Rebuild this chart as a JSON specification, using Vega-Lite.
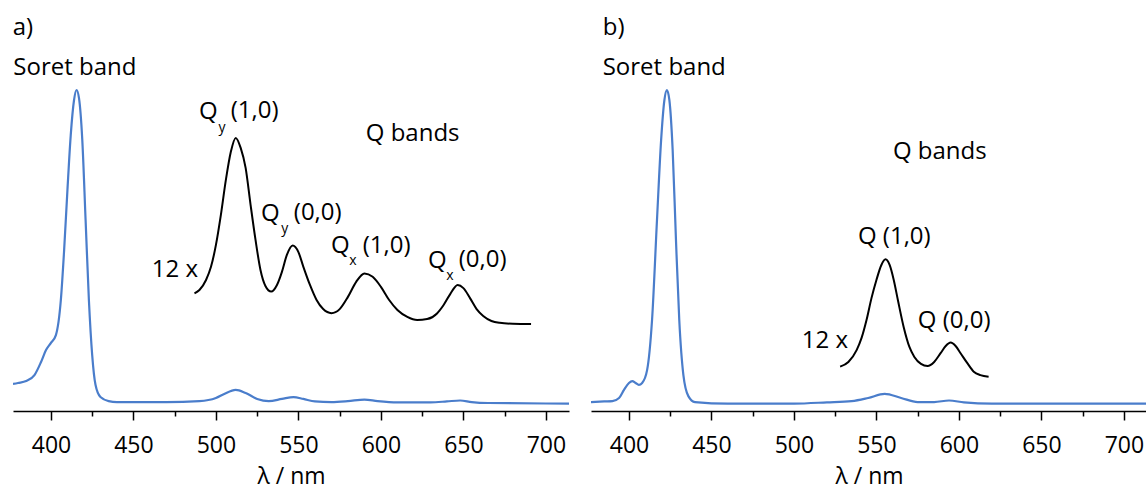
{
  "$schema": "https://vega.github.io/schema/vega-lite/v6.json",
  "padding": {"left": 12, "top": 0, "right": 0, "bottom": 0},
  "spacing": 22,
  "background": "white",
  "config": {"view": {"stroke": null}, "font": "Open Sans"},
  "datasets": {
    "blueA": [
      {"wl": 377, "A": 0.061}, {"wl": 380, "A": 0.064}, {"wl": 385, "A": 0.070}, {"wl": 390, "A": 0.089},
      {"wl": 394, "A": 0.131}, {"wl": 397, "A": 0.169}, {"wl": 400, "A": 0.192}, {"wl": 403, "A": 0.217},
      {"wl": 406, "A": 0.329}, {"wl": 408, "A": 0.489}, {"wl": 410, "A": 0.681}, {"wl": 412, "A": 0.856},
      {"wl": 414, "A": 0.968}, {"wl": 415.5, "A": 1.0}, {"wl": 417, "A": 0.974}, {"wl": 419, "A": 0.84},
      {"wl": 421, "A": 0.585}, {"wl": 423, "A": 0.329}, {"wl": 425, "A": 0.153}, {"wl": 427, "A": 0.058},
      {"wl": 430, "A": 0.019}, {"wl": 435, "A": 0.006}, {"wl": 440, "A": 0.003}, {"wl": 450, "A": 0.003},
      {"wl": 470, "A": 0.003}, {"wl": 490, "A": 0.006}, {"wl": 500, "A": 0.016}, {"wl": 505, "A": 0.029},
      {"wl": 512, "A": 0.042}, {"wl": 518, "A": 0.032}, {"wl": 525, "A": 0.013}, {"wl": 532, "A": 0.006},
      {"wl": 540, "A": 0.013}, {"wl": 547, "A": 0.019}, {"wl": 553, "A": 0.013}, {"wl": 560, "A": 0.005},
      {"wl": 570, "A": 0.003}, {"wl": 580, "A": 0.006}, {"wl": 590, "A": 0.011}, {"wl": 598, "A": 0.006},
      {"wl": 610, "A": 0.002}, {"wl": 630, "A": 0.002}, {"wl": 640, "A": 0.005}, {"wl": 648, "A": 0.008},
      {"wl": 655, "A": 0.003}, {"wl": 665, "A": 0.0}, {"wl": 714, "A": -0.002}
    ],
    "blackA": [
      {"wl": 487, "A": 0.35}, {"wl": 490, "A": 0.361}, {"wl": 494, "A": 0.393}, {"wl": 497, "A": 0.435},
      {"wl": 500, "A": 0.505}, {"wl": 503, "A": 0.601}, {"wl": 506, "A": 0.712}, {"wl": 509, "A": 0.802},
      {"wl": 512, "A": 0.847}, {"wl": 515, "A": 0.815}, {"wl": 518, "A": 0.751}, {"wl": 521, "A": 0.633},
      {"wl": 524, "A": 0.521}, {"wl": 527, "A": 0.425}, {"wl": 530, "A": 0.374}, {"wl": 533.5, "A": 0.356},
      {"wl": 537, "A": 0.377}, {"wl": 540, "A": 0.419}, {"wl": 543, "A": 0.473}, {"wl": 546.5, "A": 0.503},
      {"wl": 550, "A": 0.482}, {"wl": 553, "A": 0.435}, {"wl": 557, "A": 0.377}, {"wl": 561, "A": 0.329},
      {"wl": 565, "A": 0.3}, {"wl": 570, "A": 0.287}, {"wl": 575, "A": 0.3}, {"wl": 580, "A": 0.339},
      {"wl": 585, "A": 0.387}, {"wl": 590, "A": 0.414}, {"wl": 595, "A": 0.403}, {"wl": 600, "A": 0.371},
      {"wl": 605, "A": 0.329}, {"wl": 610, "A": 0.297}, {"wl": 616, "A": 0.275}, {"wl": 622, "A": 0.265},
      {"wl": 628, "A": 0.268}, {"wl": 634, "A": 0.286}, {"wl": 638, "A": 0.313}, {"wl": 642, "A": 0.348},
      {"wl": 646.5, "A": 0.377}, {"wl": 650, "A": 0.367}, {"wl": 654, "A": 0.335}, {"wl": 658, "A": 0.3},
      {"wl": 662, "A": 0.278}, {"wl": 667, "A": 0.262}, {"wl": 672, "A": 0.256}, {"wl": 680, "A": 0.253},
      {"wl": 691, "A": 0.252}
    ],
    "blueB": [
      {"wl": 377, "A": 0.003}, {"wl": 385, "A": 0.005}, {"wl": 390, "A": 0.006}, {"wl": 394, "A": 0.016},
      {"wl": 397, "A": 0.042}, {"wl": 400, "A": 0.064}, {"wl": 402, "A": 0.07}, {"wl": 404, "A": 0.064},
      {"wl": 406, "A": 0.058}, {"wl": 408, "A": 0.064}, {"wl": 411, "A": 0.105}, {"wl": 414, "A": 0.265},
      {"wl": 417, "A": 0.585}, {"wl": 419.5, "A": 0.84}, {"wl": 421.5, "A": 0.968}, {"wl": 423, "A": 1.0},
      {"wl": 424.5, "A": 0.968}, {"wl": 426.5, "A": 0.808}, {"wl": 428.5, "A": 0.521}, {"wl": 430.5, "A": 0.265},
      {"wl": 433, "A": 0.089}, {"wl": 436, "A": 0.022}, {"wl": 440, "A": 0.003}, {"wl": 460, "A": -0.002},
      {"wl": 500, "A": -0.002}, {"wl": 520, "A": 0.002}, {"wl": 535, "A": 0.006}, {"wl": 545, "A": 0.016},
      {"wl": 555, "A": 0.029}, {"wl": 565, "A": 0.016}, {"wl": 575, "A": 0.003}, {"wl": 585, "A": 0.003},
      {"wl": 594, "A": 0.008}, {"wl": 603, "A": 0.002}, {"wl": 620, "A": -0.002}, {"wl": 714, "A": -0.002}
    ],
    "blackB": [
      {"wl": 528, "A": 0.116}, {"wl": 533, "A": 0.131}, {"wl": 538, "A": 0.169}, {"wl": 541, "A": 0.208},
      {"wl": 544, "A": 0.265}, {"wl": 547, "A": 0.335}, {"wl": 550, "A": 0.393}, {"wl": 553, "A": 0.441},
      {"wl": 555.5, "A": 0.459}, {"wl": 558, "A": 0.441}, {"wl": 560.5, "A": 0.393}, {"wl": 563, "A": 0.329},
      {"wl": 566.5, "A": 0.243}, {"wl": 570, "A": 0.179}, {"wl": 573, "A": 0.147}, {"wl": 577, "A": 0.125},
      {"wl": 581, "A": 0.118}, {"wl": 585, "A": 0.131}, {"wl": 589, "A": 0.16}, {"wl": 592, "A": 0.182},
      {"wl": 595, "A": 0.193}, {"wl": 598, "A": 0.182}, {"wl": 601, "A": 0.159}, {"wl": 605, "A": 0.128},
      {"wl": 609, "A": 0.1}, {"wl": 613, "A": 0.089}, {"wl": 618, "A": 0.084}
    ],
    "textA": [
      {"x": 376.8, "y": 1.198, "t": "a)", "kind": "main"},
      {"x": 377.2, "y": 1.07, "t": "Soret band", "kind": "main"},
      {"x": 489.8, "y": 0.929, "t": "Q", "kind": "main"},
      {"x": 501.5, "y": 0.879, "t": "y", "kind": "sub"},
      {"x": 509.0, "y": 0.933, "t": "(1,0)", "kind": "main"},
      {"x": 590.8, "y": 0.859, "t": "Q bands", "kind": "main"},
      {"x": 527.3, "y": 0.604, "t": "Q", "kind": "main"},
      {"x": 539.6, "y": 0.556, "t": "y", "kind": "sub"},
      {"x": 547.2, "y": 0.607, "t": "(0,0)", "kind": "main"},
      {"x": 569.7, "y": 0.502, "t": "Q", "kind": "main"},
      {"x": 580.8, "y": 0.454, "t": "x", "kind": "sub"},
      {"x": 589.0, "y": 0.502, "t": "(1,0)", "kind": "main"},
      {"x": 628.5, "y": 0.454, "t": "Q", "kind": "main"},
      {"x": 639.6, "y": 0.406, "t": "x", "kind": "sub"},
      {"x": 647.2, "y": 0.457, "t": "(0,0)", "kind": "main"},
      {"x": 489.2, "y": 0.425, "t": "12 x", "kind": "right"}
    ],
    "textB": [
      {"x": 384.1, "y": 1.198, "t": "b)", "kind": "main"},
      {"x": 384.1, "y": 1.07, "t": "Soret band", "kind": "main"},
      {"x": 560.0, "y": 0.802, "t": "Q bands", "kind": "main"},
      {"x": 538.8, "y": 0.53, "t": "Q (1,0)", "kind": "main"},
      {"x": 575.1, "y": 0.262, "t": "Q (0,0)", "kind": "main"},
      {"x": 532.8, "y": 0.198, "t": "12 x", "kind": "right"}
    ]
  },
  "hconcat": [
    {
      "width": 556,
      "height": 411,
      "resolve": {"axis": {"x": "independent"}},
      "layer": [
        {
          "data": {"name": "blueA"},
          "mark": {"type": "line", "color": "#4a7dcb", "strokeWidth": 2.2, "interpolate": "monotone", "clip": true},
          "encoding": {
            "x": {"field": "wl", "type": "quantitative", "scale": {"domain": [377, 714], "nice": false, "zero": false},
              "axis": {"values": [400, 450, 500, 550, 600, 650, 700], "grid": false, "tickSize": 9, "tickWidth": 1.5, "tickColor": "black",
                "domainColor": "black", "domainWidth": 1.5, "labelFont": "Open Sans", "labelFontSize": 23, "labelColor": "black",
                "labelPadding": 14, "title": "λ / nm", "titleFont": "Open Sans", "titleFontSize": 23, "titleFontWeight": "normal",
                "titleColor": "black", "titlePadding": 8}},
            "y": {"field": "A", "type": "quantitative", "scale": {"domain": [-0.0256, 1.2875], "nice": false, "zero": false}, "axis": null}
          }
        },
        {
          "data": {"name": "blackA"},
          "mark": {"type": "line", "color": "black", "strokeWidth": 2, "interpolate": "monotone"},
          "encoding": {
            "x": {"field": "wl", "type": "quantitative",
              "axis": {"orient": "bottom", "values": [425, 475, 525, 575, 625, 675], "grid": false, "labels": false, "domain": false,
                "tickSize": 5, "tickWidth": 1.5, "tickColor": "black", "title": null}},
            "y": {"field": "A", "type": "quantitative", "axis": null}
          }
        },
        {
          "data": {"name": "textA"},
          "transform": [{"filter": "datum.kind === 'main'"}],
          "mark": {"type": "text", "align": "left", "baseline": "middle", "font": "Open Sans", "fontSize": 24, "color": "black"},
          "encoding": {
            "x": {"field": "x", "type": "quantitative", "axis": null},
            "y": {"field": "y", "type": "quantitative", "axis": null},
            "text": {"field": "t"}
          }
        },
        {
          "data": {"name": "textA"},
          "transform": [{"filter": "datum.kind === 'sub'"}],
          "mark": {"type": "text", "align": "left", "baseline": "middle", "font": "Open Sans", "fontSize": 14, "color": "black"},
          "encoding": {
            "x": {"field": "x", "type": "quantitative", "axis": null},
            "y": {"field": "y", "type": "quantitative", "axis": null},
            "text": {"field": "t"}
          }
        },
        {
          "data": {"name": "textA"},
          "transform": [{"filter": "datum.kind === 'right'"}],
          "mark": {"type": "text", "align": "right", "baseline": "middle", "font": "Open Sans", "fontSize": 24, "color": "black"},
          "encoding": {
            "x": {"field": "x", "type": "quantitative", "axis": null},
            "y": {"field": "y", "type": "quantitative", "axis": null},
            "text": {"field": "t"}
          }
        }
      ]
    },
    {
      "width": 556,
      "height": 411,
      "resolve": {"axis": {"x": "independent"}},
      "layer": [
        {
          "data": {"name": "blueB"},
          "mark": {"type": "line", "color": "#4a7dcb", "strokeWidth": 2.2, "interpolate": "monotone", "clip": true},
          "encoding": {
            "x": {"field": "wl", "type": "quantitative", "scale": {"domain": [377, 714], "nice": false, "zero": false},
              "axis": {"values": [400, 450, 500, 550, 600, 650, 700], "grid": false, "tickSize": 9, "tickWidth": 1.5, "tickColor": "black",
                "domainColor": "black", "domainWidth": 1.5, "labelFont": "Open Sans", "labelFontSize": 23, "labelColor": "black",
                "labelPadding": 14, "title": "λ / nm", "titleFont": "Open Sans", "titleFontSize": 23, "titleFontWeight": "normal",
                "titleColor": "black", "titlePadding": 8}},
            "y": {"field": "A", "type": "quantitative", "scale": {"domain": [-0.0256, 1.2875], "nice": false, "zero": false}, "axis": null}
          }
        },
        {
          "data": {"name": "blackB"},
          "mark": {"type": "line", "color": "black", "strokeWidth": 2, "interpolate": "monotone"},
          "encoding": {
            "x": {"field": "wl", "type": "quantitative",
              "axis": {"orient": "bottom", "values": [425, 475, 525, 575, 625, 675], "grid": false, "labels": false, "domain": false,
                "tickSize": 5, "tickWidth": 1.5, "tickColor": "black", "title": null}},
            "y": {"field": "A", "type": "quantitative", "axis": null}
          }
        },
        {
          "data": {"name": "textB"},
          "transform": [{"filter": "datum.kind === 'main'"}],
          "mark": {"type": "text", "align": "left", "baseline": "middle", "font": "Open Sans", "fontSize": 24, "color": "black"},
          "encoding": {
            "x": {"field": "x", "type": "quantitative", "axis": null},
            "y": {"field": "y", "type": "quantitative", "axis": null},
            "text": {"field": "t"}
          }
        },
        {
          "data": {"name": "textB"},
          "transform": [{"filter": "datum.kind === 'right'"}],
          "mark": {"type": "text", "align": "right", "baseline": "middle", "font": "Open Sans", "fontSize": 24, "color": "black"},
          "encoding": {
            "x": {"field": "x", "type": "quantitative", "axis": null},
            "y": {"field": "y", "type": "quantitative", "axis": null},
            "text": {"field": "t"}
          }
        }
      ]
    }
  ]
}
